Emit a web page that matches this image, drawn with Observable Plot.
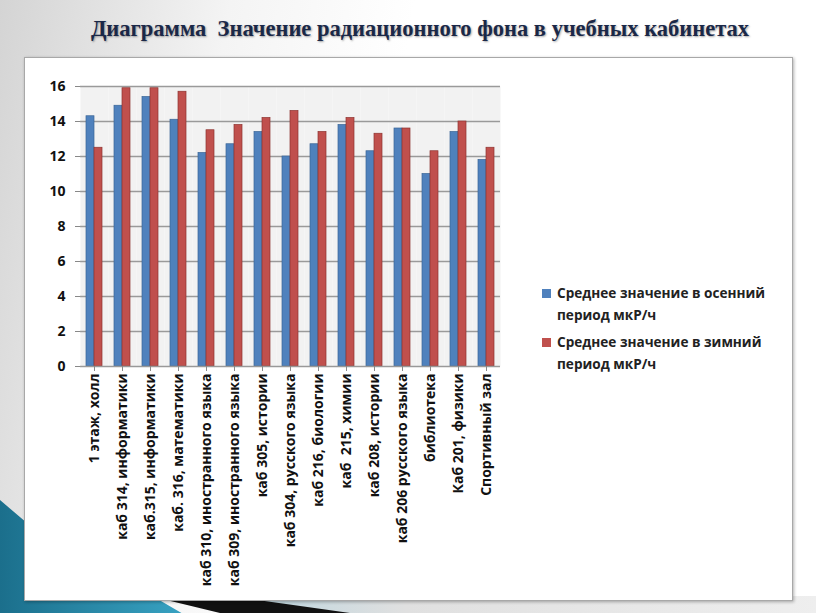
<!DOCTYPE html>
<html><head><meta charset="utf-8">
<script src="https://cdn.jsdelivr.net/npm/d3@7"></script>
<script src="https://cdn.jsdelivr.net/npm/@observablehq/plot@0.6"></script>
<style>
html,body{margin:0;padding:0;}
body{width:816px;height:613px;position:relative;overflow:hidden;
 background:linear-gradient(100deg,#d4d4d4 0%,#f4f4f4 25%,#ffffff 45%,#ffffff 100%);font-family:"Open Sans",sans-serif;}
#deco1{position:absolute;left:0;top:500px;width:330px;height:113px;
 background:linear-gradient(90deg,#1b6f8c,#3aa6c6 60%,#7cc7dd);clip-path:polygon(0 0,8% 20%,55% 100%,0 100%);}
#deco2{position:absolute;left:150px;top:596px;width:200px;height:17px;background:#111;clip-path:polygon(0 0,40% 0,100% 100%,35% 100%);}
#deco3{position:absolute;left:230px;top:596px;width:586px;height:17px;background:linear-gradient(90deg,#b8d4de,#e0e0e0 30%,#eeeeee);clip-path:polygon(0 0,100% 0,100% 100%,12% 100%);}
#title{position:absolute;left:0;width:840px;top:16px;text-align:center;font-family:"Liberation Serif",serif;font-weight:bold;font-size:22.5px;color:#1a2848;text-shadow:1px 1px 2px rgba(0,0,0,0.35);}
#box{position:absolute;left:24px;top:57px;width:767px;height:542px;background:#fff;border:1px solid #a8a8a8;box-shadow:1px 1px 3px rgba(0,0,0,0.3);}
#chart{position:absolute;left:0px;top:3px;}
#legend{position:absolute;left:517px;top:224px;font-family:"Open Sans",sans-serif;font-weight:bold;font-size:13.6px;color:#222;line-height:22px;}
.li{position:relative;padding-left:15px;margin-bottom:5px;}
.sw{position:absolute;left:0;top:7px;width:9px;height:9px;}
</style></head>
<body>
<div id="deco3"></div><div id="deco1"></div><div id="deco2"></div>
<div id="title">Диаграмма&nbsp; Значение радиационного фона в учебных кабинетах</div>
<div id="box"><div id="chart"></div>
<div id="legend"></div></div>
<script>
const categories = ["1 этаж, холл","каб 314, информатики","каб.315, информатики","каб. 316, математики","каб 310, иностранного языка","каб 309, иностранного языка","каб 305, истории","каб 304, русского языка","каб 216, биологии","каб  215, химии","каб 208, истории","каб 206 русского языка","библиотека","Каб 201, физики","Спортивный зал"];
const autumn = [14.3,14.9,15.4,14.1,12.2,12.7,13.4,12.0,12.7,13.8,12.3,13.6,11.0,13.4,11.8];
const winter = [12.5,15.9,15.9,15.7,13.5,13.8,14.2,14.6,13.4,14.2,13.3,13.6,12.3,14.0,12.5];
const seriesNames = ["Среднее значение в осенний период мкР/ч","Среднее значение в зимний период мкР/ч"];
const colors = ["#4f81bd","#c0504d"];
const yTicks = [0,2,4,6,8,10,12,14,16];

const data = [];
categories.forEach((c,i)=>{
  data.push({cat:c, series:seriesNames[0], value:autumn[i]});
  data.push({cat:c, series:seriesNames[1], value:winter[i]});
});

const chart = Plot.plot({
  width: 485, height: 540,
  marginTop: 25, marginBottom: 235, marginLeft: 50, marginRight: 5,
  style:{fontFamily:"Open Sans, sans-serif", fontWeight:"bold", fontSize:"12px", color:"#111", background:"transparent"},
  fx:{domain:categories, padding:0, label:null},
  x:{domain:seriesNames, axis:null, paddingInner:0, paddingOuter:0.65},
  y:{domain:[0,16], ticks:yTicks, label:null},
  color:{domain:seriesNames, range:colors},
  marks:[
    Plot.frame({fill:"#f2f2f2", stroke:null}),
    Plot.ruleY(yTicks.slice(1), {stroke:"#9a9a9a", strokeWidth:1.5}),
    Plot.barY(data, {fx:"cat", x:"series", y:"value", fill:"series", stroke:d=>d.series===seriesNames[0]?"#3a6596":"#8e3330", strokeWidth:0.7}),
    Plot.ruleY([0], {stroke:"#999", strokeWidth:1.5}),
    Plot.axisY({ticks:yTicks, tickSize:5, tickPadding:10, tickFormat:d=>String(d), fontSize:14, fontWeight:"bold", stroke:"#888", label:null}),
    Plot.axisFx({anchor:"bottom", tickRotate:-90, fontSize:14, fontWeight:"bold", tickSize:5, tickPadding:2, stroke:"#888", label:null, textOverflow:null, lineWidth:Infinity})
  ]
});
document.getElementById("chart").appendChild(chart);

const lg = document.getElementById("legend");
const legendLines = [["Среднее значение в осенний","период мкР/ч"],["Среднее значение в зимний","период мкР/ч"]];
legendLines.forEach((ls,i)=>{
  const d=document.createElement("div"); d.className="li";
  d.innerHTML=`<span class="sw" style="background:${colors[i]}"></span>${ls[0]}<br>${ls[1]}`;
  lg.appendChild(d);
});
</script>
</body></html>
